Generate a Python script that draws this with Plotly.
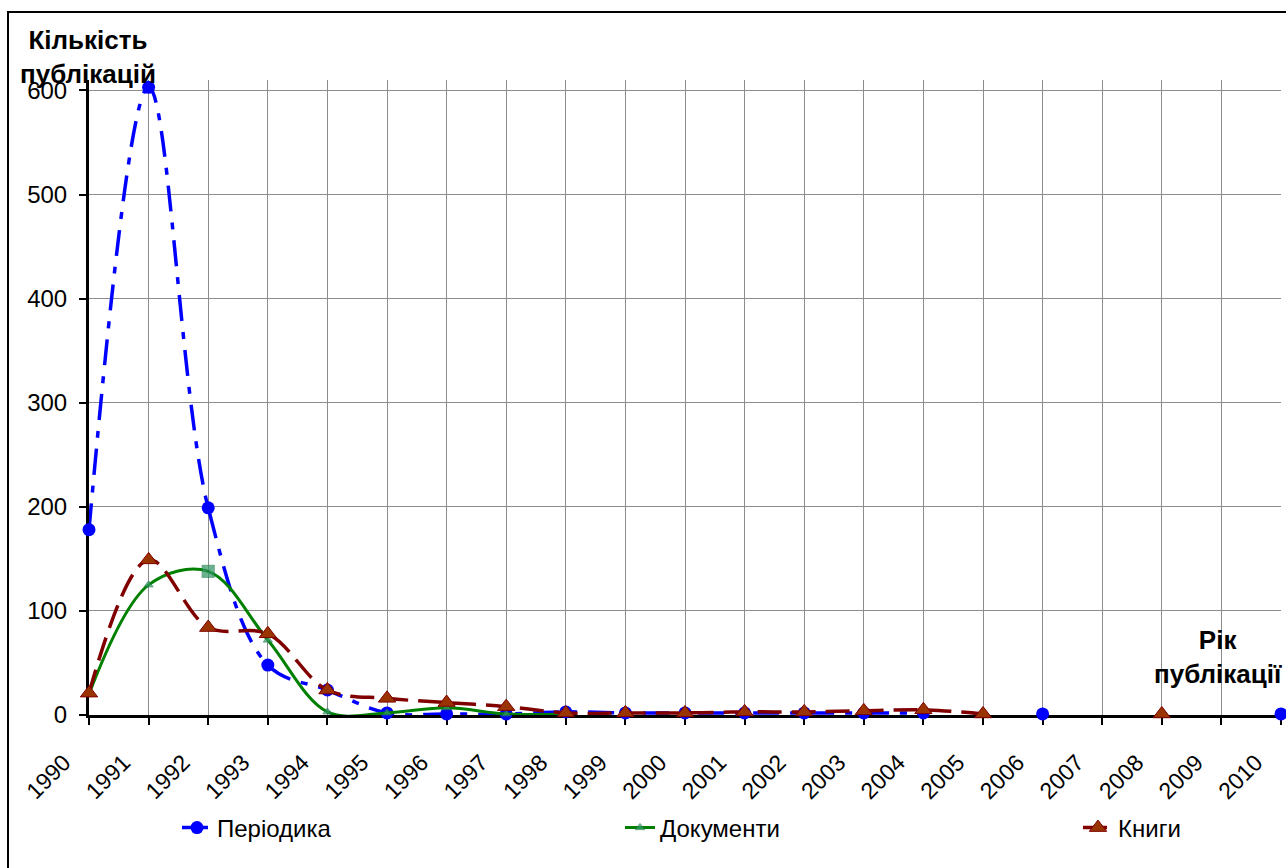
import plotly.graph_objects as go

years = list(range(1990, 2011))
periodyka = [178, 603, 199, 48, 24, 2, 1, 1, 3, 2, 2, 2, 2, 2, 2, None, 1, None, None, None, 1]
dokumenty = [20, 125, 138, 72, 3, 2, 7, 1, 1, None, None, None, None, None, None, None, None, None, None, None, None]
knyhy = [21, 149, 84, 78, 24, 16, 12, 8, 2, 2, 2, 3, 3, 4, 5, 1, None, None, 1, None, None]
year_labels = [str(y) for y in years]
y_ticks = [0, 100, 200, 300, 400, 500, 600]

FONT = "Liberation Sans, Arial, sans-serif"
W, H = 1286, 868
ML, MR, MT, MB = 89, 5, 80, 153
PW, PH = W - ML - MR, H - MT - MB


def px(x):
    return (x - ML) / PW


def py(y):
    return (H - MB - y) / PH


fig = go.Figure()

fig.add_trace(go.Scatter(
    x=years, y=periodyka, name="Періодика", mode="lines+markers",
    line=dict(color="#0000FF", width=3.5, dash="26px,11px,7px,11px", shape="spline", smoothing=1),
    marker=dict(symbol="circle", size=13, color="#0000FF"),
    connectgaps=False, cliponaxis=False, legend="legend", showlegend=True,
))

dok_symbols = ["triangle-up"] * len(years)
dok_symbols[2] = "square-x"
dok_sizes = [8] * len(years)
dok_sizes[2] = 12
dok_colors = ["#339966"] * len(years)
fig.add_trace(go.Scatter(
    x=years, y=dokumenty, name="Документи", mode="lines+markers",
    line=dict(color="#008000", width=3, shape="spline", smoothing=1),
    marker=dict(symbol=dok_symbols, size=dok_sizes, color=dok_colors,
                line=dict(color="#1F7A4A", width=1)),
    connectgaps=False, cliponaxis=False, legend="legend2", showlegend=True,
))

fig.add_trace(go.Scatter(
    x=years, y=knyhy, name="Книги", mode="lines+markers",
    line=dict(color="#800000", width=3.5, dash="24px,10px", shape="spline", smoothing=1),
    marker=dict(symbol="triangle-up", size=15, color="#993300", line=dict(color="#800000", width=1)),
    connectgaps=False, cliponaxis=False, legend="legend3", showlegend=True,
))

leg = dict(orientation="h", yanchor="middle", xanchor="left",
           font=dict(size=24), bgcolor="rgba(0,0,0,0)")

fig.update_layout(
    width=W, height=H, showlegend=True,
    margin=dict(l=ML, r=MR, t=MT, b=MB, pad=0),
    paper_bgcolor="white", plot_bgcolor="white",
    font=dict(family=FONT, size=22, color="black"),
    xaxis=dict(
        range=[1990, 2010], tickmode="array", tickvals=years, ticktext=year_labels,
        tickangle=-45, showgrid=True, gridcolor="#8C8C8C", gridwidth=1,
        showline=True, linecolor="black", linewidth=3,
        ticks="outside", ticklen=7, tickwidth=2, tickcolor="black",
        tickfont=dict(size=23), ticklabelshift=-25, ticklabelstandoff=15,
        zeroline=False, layer="below traces",
    ),
    yaxis=dict(
        range=[0, 610], tickmode="array", tickvals=y_ticks,
        showgrid=True, gridcolor="#8C8C8C", gridwidth=1,
        showline=True, linecolor="black", linewidth=3,
        ticks="outside", ticklen=7, tickwidth=2, tickcolor="black",
        tickfont=dict(size=24), ticklabelstandoff=7,
        zeroline=False, layer="below traces",
    ),
    legend=dict(leg, x=px(177), y=py(828)),
    legend2=dict(leg, x=px(620), y=py(828)),
    legend3=dict(leg, x=px(1078), y=py(828)),
    shapes=[dict(type="rect", xref="paper", yref="paper",
                 x0=px(8), x1=px(1292), y0=py(875), y1=py(12),
                 line=dict(color="black", width=2), fillcolor="rgba(0,0,0,0)", layer="below")],
    annotations=[
        dict(text="<b>Кількість<br>публікацій</b>", xref="paper", yref="paper",
             x=px(88), y=py(57), xanchor="center", yanchor="middle", showarrow=False,
             font=dict(size=26, family=FONT)),
        dict(text="<b>Рік<br>публікації</b>", xref="paper", yref="paper",
             x=px(1218), y=py(657), xanchor="center", yanchor="middle", showarrow=False,
             font=dict(size=26, family=FONT)),
    ],
)

fig.write_html("out.html", config={"displayModeBar": False},
               post_script="document.body.style.margin='0';document.body.style.overflow='hidden';")
